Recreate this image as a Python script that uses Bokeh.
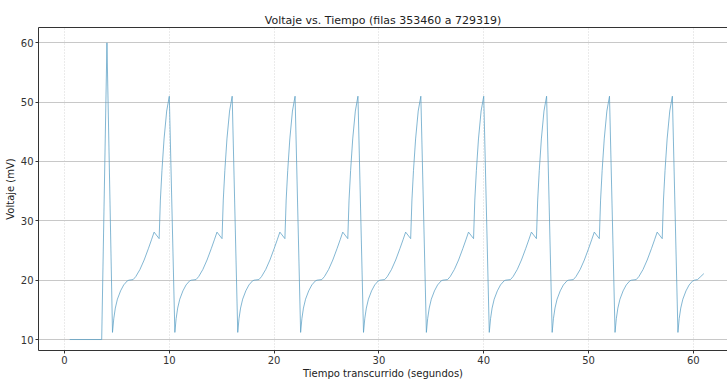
from bokeh.plotting import figure
from bokeh.models import Range1d, FixedTicker, LinearAxis
from bokeh.embed import file_html
from bokeh.resources import INLINE

# ---- data ----
tiempo = [
    0.5, 3.55, 4.05,
    4.58, 4.7, 4.85, 5.05, 5.35, 5.65, 6.0, 6.15, 6.55, 6.8, 7.2, 7.6, 8.0, 8.3, 8.55, 9.03, 9.15, 9.3, 9.5, 9.75, 10.0,
    10.53, 10.65, 10.8, 11.0, 11.3, 11.6, 11.95, 12.1, 12.55, 12.8, 13.2, 13.6, 14.0, 14.3, 14.55, 15.03, 15.15, 15.3, 15.5, 15.75, 16.0,
    16.53, 16.65, 16.8, 17.0, 17.3, 17.6, 17.95, 18.1, 18.55, 18.8, 19.2, 19.6, 20.0, 20.3, 20.55, 21.03, 21.15, 21.3, 21.5, 21.75, 22.0,
    22.53, 22.65, 22.8, 23.0, 23.3, 23.6, 23.95, 24.1, 24.55, 24.8, 25.2, 25.6, 26.0, 26.3, 26.55, 27.03, 27.15, 27.3, 27.5, 27.75, 28.0,
    28.53, 28.65, 28.8, 29.0, 29.3, 29.6, 29.95, 30.1, 30.55, 30.8, 31.2, 31.6, 32.0, 32.3, 32.55, 33.03, 33.15, 33.3, 33.5, 33.75, 34.0,
    34.53, 34.65, 34.8, 35.0, 35.3, 35.6, 35.95, 36.1, 36.55, 36.8, 37.2, 37.6, 38.0, 38.3, 38.55, 39.03, 39.15, 39.3, 39.5, 39.75, 40.0,
    40.53, 40.65, 40.8, 41.0, 41.3, 41.6, 41.95, 42.1, 42.55, 42.8, 43.2, 43.6, 44.0, 44.3, 44.55, 45.03, 45.15, 45.3, 45.5, 45.75, 46.0,
    46.53, 46.65, 46.8, 47.0, 47.3, 47.6, 47.95, 48.1, 48.55, 48.8, 49.2, 49.6, 50.0, 50.3, 50.55, 51.03, 51.15, 51.3, 51.5, 51.75, 52.0,
    52.53, 52.65, 52.8, 53.0, 53.3, 53.6, 53.95, 54.1, 54.55, 54.8, 55.2, 55.6, 56.0, 56.3, 56.55, 57.03, 57.15, 57.3, 57.5, 57.75, 58.0,
    58.53, 58.65, 58.8, 59.0, 59.3, 59.6, 59.95, 60.1, 60.4, 60.7, 61.0,
]
voltaje = [
    10, 10, 60,
    11.2, 13.5, 15.3, 16.8, 18.2, 19.2, 19.9, 20.0, 20.1, 20.6, 21.8, 23.4, 25.3, 26.8, 28.1, 27.0, 33.5, 38.5, 43.8, 48.5, 51.0,
    11.2, 13.5, 15.3, 16.8, 18.2, 19.2, 19.9, 20.0, 20.1, 20.6, 21.8, 23.4, 25.3, 26.8, 28.1, 27.0, 33.5, 38.5, 43.8, 48.5, 51.0,
    11.2, 13.5, 15.3, 16.8, 18.2, 19.2, 19.9, 20.0, 20.1, 20.6, 21.8, 23.4, 25.3, 26.8, 28.1, 27.0, 33.5, 38.5, 43.8, 48.5, 51.0,
    11.2, 13.5, 15.3, 16.8, 18.2, 19.2, 19.9, 20.0, 20.1, 20.6, 21.8, 23.4, 25.3, 26.8, 28.1, 27.0, 33.5, 38.5, 43.8, 48.5, 51.0,
    11.2, 13.5, 15.3, 16.8, 18.2, 19.2, 19.9, 20.0, 20.1, 20.6, 21.8, 23.4, 25.3, 26.8, 28.1, 27.0, 33.5, 38.5, 43.8, 48.5, 51.0,
    11.2, 13.5, 15.3, 16.8, 18.2, 19.2, 19.9, 20.0, 20.1, 20.6, 21.8, 23.4, 25.3, 26.8, 28.1, 27.0, 33.5, 38.5, 43.8, 48.5, 51.0,
    11.2, 13.5, 15.3, 16.8, 18.2, 19.2, 19.9, 20.0, 20.1, 20.6, 21.8, 23.4, 25.3, 26.8, 28.1, 27.0, 33.5, 38.5, 43.8, 48.5, 51.0,
    11.2, 13.5, 15.3, 16.8, 18.2, 19.2, 19.9, 20.0, 20.1, 20.6, 21.8, 23.4, 25.3, 26.8, 28.1, 27.0, 33.5, 38.5, 43.8, 48.5, 51.0,
    11.2, 13.5, 15.3, 16.8, 18.2, 19.2, 19.9, 20.0, 20.1, 20.6, 21.8, 23.4, 25.3, 26.8, 28.1, 27.0, 33.5, 38.5, 43.8, 48.5, 51.0,
    11.2, 13.5, 15.3, 16.8, 18.2, 19.2, 19.9, 20.0, 20.1, 20.6, 21.1,
]
x_ticks = [0, 10, 20, 30, 40, 50, 60]
y_ticks = [10, 20, 30, 40, 50, 60]

titulo = "Voltaje vs. Tiempo (filas 353460 a 729319)"
etiqueta_x = "Tiempo transcurrido (segundos)"
etiqueta_y = "Voltaje (mV)"

FONT = "DejaVu Sans"

p = figure(
    width=727, height=381,
    output_backend="svg", toolbar_location=None,
    x_range=Range1d(-2.48, 63.26), y_range=Range1d(8.15, 62.58),
    title=titulo,
    min_border_left=38, min_border_right=0, min_border_top=27, min_border_bottom=31,
)
p.title.align = "center"
p.title.text_font = FONT
p.title.text_font_size = "11px"
p.title.text_font_style = "normal"
p.title.text_color = "#222222"
p.title.standoff = 2

p.line(tiempo, voltaje, line_color="#5a9fc4", line_width=0.75)

for ax in (p.xaxis[0], p.yaxis[0]):
    ax.axis_line_color = "#333333"
    ax.major_tick_line_color = "#333333"
    ax.major_tick_out = 3
    ax.major_tick_in = 0
    ax.minor_tick_line_color = None
    ax.major_label_text_font = FONT
    ax.major_label_text_font_size = "10px"
    ax.major_label_text_color = "#333333"
    ax.major_label_standoff = 2
    ax.axis_label_text_font = FONT
    ax.axis_label_text_font_size = "10px"
    ax.axis_label_text_font_style = "normal"
    ax.axis_label_text_color = "#222222"
    ax.axis_label_standoff = 2

p.xaxis[0].axis_label_standoff = 1
p.xaxis[0].ticker = FixedTicker(ticks=x_ticks)
p.yaxis[0].ticker = FixedTicker(ticks=y_ticks)
p.xaxis[0].axis_label = etiqueta_x
p.yaxis[0].axis_label = etiqueta_y

top = LinearAxis(ticker=FixedTicker(ticks=[]), axis_line_color="#333333",
                 major_tick_line_color=None, minor_tick_line_color=None,
                 major_label_text_font_size="0px", major_tick_out=0,
                 major_label_standoff=0)
p.add_layout(top, "above")

p.outline_line_color = None
p.xgrid.grid_line_color = "#d6d6d6"
p.xgrid.grid_line_dash = "1 2"
p.ygrid.grid_line_color = "#c8c8c8"
p.background_fill_color = "white"
p.border_fill_color = "white"

open("out.html", "w").write(file_html(p, INLINE))
